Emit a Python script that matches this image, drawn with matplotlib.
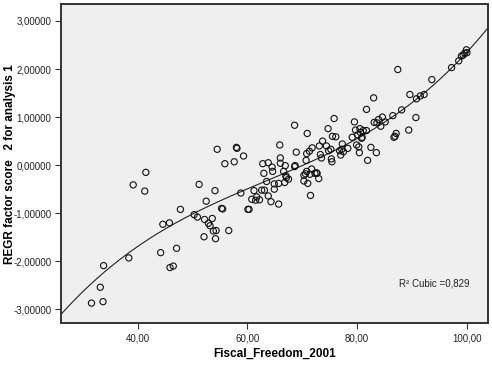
import numpy as np
import matplotlib
matplotlib.use("Agg")
import matplotlib.pyplot as plt
from matplotlib.ticker import FuncFormatter

plt.rcParams['font.family'] = ['Liberation Sans', 'DejaVu Sans']

fiscal_freedom = [
    31.6, 33.2, 33.7, 33.8, 38.4, 39.2, 41.3, 41.5, 44.2, 44.6, 45.8, 45.9, 46.5, 47.1, 47.8,
    50.3, 50.9, 51.2, 52.1, 52.2, 52.5, 52.9, 53.2, 53.6, 53.8, 54.1, 54.2, 54.3, 54.5, 55.3,
    55.5, 55.9, 56.6, 57.6, 58.0, 58.1, 58.8, 59.3, 60.1, 60.3, 60.8, 61.2, 61.5, 61.7, 62.2,
    62.6, 62.8, 63.0, 63.1, 63.5, 63.8, 63.8, 64.3, 64.5, 64.6, 64.9, 64.9, 65.7, 65.7, 65.9,
    66.0, 66.0, 66.6, 66.8, 66.9, 67.0, 67.1, 67.5, 68.6, 68.6, 68.7, 68.9, 70.3, 70.3, 70.6,
    70.7, 70.8, 70.8, 70.9, 71.0, 71.3, 71.4, 71.5, 71.7, 71.8, 72.3, 72.6, 72.7, 73.0, 73.1,
    73.3, 73.5, 73.7, 74.4, 74.7, 74.8, 75.2, 75.3, 75.4, 75.5, 75.8, 76.1, 76.8, 77.0, 77.2,
    77.3, 77.5, 78.3, 79.1, 79.5, 79.7, 79.9, 80.1, 80.3, 80.4, 80.5, 80.6, 80.8, 80.9, 81.1,
    81.7, 81.7, 81.9, 82.5, 83.0, 83.1, 83.5, 83.6, 83.9, 84.3, 84.6, 85.1, 86.5, 86.7, 86.9,
    87.1, 87.4, 88.1, 89.4, 89.6, 90.7, 90.8, 91.5, 92.2, 93.6, 97.2, 98.5, 99.0, 99.3, 99.6,
    99.9, 100.0,
]
factor_score = [
    -2.87, -2.54, -2.84, -2.09, -1.93, -0.41, -0.54, -0.15, -1.82, -1.23, -1.20, -2.13, -2.10, -1.73, -0.92,
    -1.03, -1.08, -0.40, -1.49, -1.13, -0.75, -1.21, -1.26, -1.11, -1.37, -0.53, -1.53, -1.36, 0.33, -0.90,
    -0.91, 0.03, -1.36, 0.07, 0.37, 0.35, -0.58, 0.19, -0.92, -0.92, -0.71, -0.53, -0.73, -0.66, -0.72,
    -0.52, 0.03, -0.17, -0.52, -0.34, 0.05, -0.64, -0.76, -0.04, -0.13, -0.50, -0.39, -0.81, -0.38, 0.42,
    0.15, 0.04, -0.13, -0.36, -0.01, -0.22, -0.26, -0.29, -0.03, 0.83, -0.01, 0.27, -0.33, -0.21, -0.18,
    0.10, 0.24, -0.13, 0.66, -0.38, 0.29, -0.19, -0.63, -0.08, 0.36, -0.17, -0.16, -0.17, -0.28, 0.40,
    0.22, 0.15, 0.50, 0.40, 0.76, 0.30, 0.33, 0.13, 0.07, 0.60, 0.97, 0.59, 0.30, 0.21, 0.33,
    0.44, 0.28, 0.35, 0.58, 0.90, 0.73, 0.42, 0.63, 0.38, 0.26, 0.76, 0.68, 0.56, 0.58, 0.72,
    0.72, 1.16, 0.10, 0.37, 1.40, 0.89, 0.26, 0.88, 0.95, 0.81, 1.00, 0.90, 1.03, 0.58, 0.60,
    0.66, 1.99, 1.15, 0.73, 1.47, 0.99, 1.38, 1.44, 1.47, 1.78, 2.03, 2.17, 2.27, 2.29, 2.33,
    2.40, 2.34,
]
x_ticks = [40, 60, 80, 100]
y_ticks = [-3, -2, -1, 0, 1, 2, 3]
r2_label = "R\u00b2 Cubic =0,829"
x_label = "Fiscal_Freedom_2001"
y_label = "REGR factor score   2 for analysis 1"

x = np.array(fiscal_freedom)
y = np.array(factor_score)
coef = np.polyfit(x, y, 3)

fig = plt.figure(figsize=(4.92, 3.66), dpi=100)
ax = fig.add_axes([0.1246, 0.1167, 0.868, 0.872])
ax.set_facecolor('#EFEFEF')

xlim = (26.1, 103.9)
ylim = (-3.29, 3.35)
xs = np.linspace(xlim[0], xlim[1], 300)
ax.plot(xs, np.polyval(coef, xs), color='#222222', lw=0.8, zorder=2)
ax.scatter(x, y, s=20, facecolors='none', edgecolors='#111111', linewidths=0.8, zorder=3)

ax.set_xlim(*xlim)
ax.set_ylim(*ylim)
ax.set_xticks(x_ticks)
ax.set_yticks(y_ticks)
ax.xaxis.set_major_formatter(FuncFormatter(lambda v, p: f"{v:.2f}".replace('.', ',')))
ax.yaxis.set_major_formatter(FuncFormatter(lambda v, p: f"{v:.5f}".replace('.', ',')))
ax.tick_params(axis='both', direction='out', length=4, width=0.8, color='#333333',
               labelsize=7, labelcolor='#222222', pad=3)
for s in ax.spines.values():
    s.set_color('#333333')
    s.set_linewidth(1.4)

ax.set_xlabel(x_label, fontsize=8.5, fontweight='bold', va='center')
ax.set_ylabel(y_label, fontsize=8.5, fontweight='bold', va='center')
ax.xaxis.set_label_coords(0.5, -0.096)
ax.yaxis.set_label_coords(-0.12, 0.5)

ax.text(87.7, -2.47, r2_label, fontsize=7, color='#222222', va='center', ha='left')

fig.savefig('out.png', dpi=100)
